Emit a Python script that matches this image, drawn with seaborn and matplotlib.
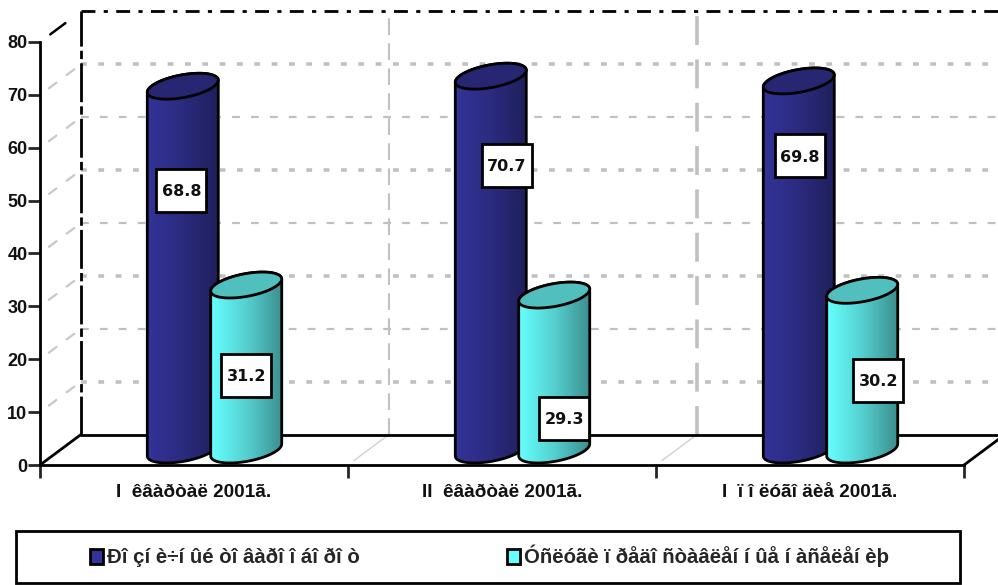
import matplotlib
matplotlib.use("Agg")
import matplotlib.pyplot as plt
import numpy as np
import pandas as pd
import seaborn as sns
from matplotlib.colors import LinearSegmentedColormap
from matplotlib.patches import Patch, Polygon, Rectangle

categories = ["I  êâàðòàë 2001ã.", "II  êâàðòàë 2001ã.", "I  ï î ëóãî äèå 2001ã."]
series_names = ["Ðî çí è÷í ûé òî âàðî î áî ðî ò", "Óñëóãè ï ðåäî ñòàâëåí í ûå í àñåëåí èþ"]
retail = [68.8, 70.7, 69.8]
services = [31.2, 29.3, 30.2]
y_ticks = [0, 10, 20, 30, 40, 50, 60, 70, 80]

# label box centres, pixels from the top centre of each bar
label_offsets = [
    [(-1.5, 89), (16, 74), (1, 60)],
    [(0, 75), (10, 108), (16, 75)],
]

sns.set_style("white")
plt.rcParams["font.family"] = ["Liberation Sans", "DejaVu Sans"]

W, H = 998, 585
L, R, T, B = 40, 964, 42, 465
px_x = 3 / (R - L)
px_y = 80 / (B - T)

depth_x = 41 * px_x
depth_y = 30.5 * px_y
shift = 20.5 * px_x
half_w = 35.5 * px_x
tilt = 6 * px_y
front = 11.5 * px_y
lift = 15 * px_y

df = pd.DataFrame({
    "period": categories * 2,
    "value": retail + services,
    "series": [series_names[0]] * 3 + [series_names[1]] * 3,
})

fig = plt.figure(figsize=(W / 100, H / 100), dpi=100)
ax = fig.add_axes([L / W, 1 - B / H, (R - L) / W, (B - T) / H])

colors = ["#333399", "#66ffff"]
sns.barplot(data=df, x="period", y="value", hue="series", hue_order=series_names,
            palette=colors, width=0.412, gap=0, saturation=1, legend=False, ax=ax)
ax.set_xlim(-0.5, 2.5)
ax.set_ylim(0, 80)
ax.set_xlabel("")
ax.set_ylabel("")
for s in ["top", "right"]:
    ax.spines[s].set_visible(False)
for s in ["left", "bottom"]:
    ax.spines[s].set_linewidth(2)
    ax.spines[s].set_color("black")
    ax.spines[s].set_zorder(6)

ax.set_yticks(y_ticks)
ax.tick_params(axis="y", left=True, length=9, width=2, pad=0, labelsize=13, labelcolor="#111111")
ax.set_xticks([0, 1, 2])
ax.set_xticks([-0.5, 0.5, 1.5, 2.5], minor=True)
ax.tick_params(axis="x", which="major", length=0, pad=13.5, labelsize=13.7, labelcolor="#111111")
ax.tick_params(axis="x", which="minor", bottom=True, length=9, width=2)
for lab in ax.get_xticklabels() + ax.get_yticklabels():
    lab.set_fontweight("bold")

x0 = -0.5 + depth_x
x_end = 2.5 + depth_x * 1.2

# back wall and side wall grid
for v in y_ticks[1:-1]:
    lw = 2.6 if v in (10, 30, 50, 70) else 1.6
    dash = (0, (1.6, 3.2)) if lw > 2 else (0, (3.5, 5))
    ax.plot([x0, x_end], [v + depth_y] * 2, color="#c0c0c0", lw=lw, ls=dash, clip_on=False, zorder=1)
    ax.plot([-0.5 + 0.2 * depth_x, x0], [v + 0.2 * depth_y, v + depth_y], color="#c8c8c8", lw=1.6,
            ls=(0, (5, 5)), clip_on=False, zorder=1)
for v in [0.5, 1.5]:
    ax.plot([v + depth_x] * 2, [depth_y, 80 + depth_y], color="#c0c0c0",
            lw=1.5 if v == 0.5 else 2.6, ls=(0, (8, 4)), clip_on=False, zorder=1)
    ax.plot([v + 0.15 * depth_x, v + depth_x], [0.15 * depth_y, depth_y], color="#d0d0d0", lw=1,
            clip_on=False, zorder=1)

# black frame of the box
ax.plot([x0, x_end], [80 + depth_y] * 2, color="black", lw=2, ls=(0, (5, 3, 1.5, 3)), clip_on=False, zorder=2)
ax.plot([x0, x0], [depth_y, 80 + depth_y], color="black", lw=2, ls=(0, (14, 1.5, 3, 1.5)), clip_on=False, zorder=2)
ax.plot([x0, x_end], [depth_y, depth_y], color="black", lw=2, clip_on=False, zorder=2)
ax.plot([-0.5, x0], [0, depth_y], color="black", lw=2, clip_on=False, zorder=2)
ax.plot([2.5, 2.5 + depth_x * 0.85], [0, depth_y * 0.85], color="black", lw=2, clip_on=False, zorder=2)
ax.plot([-0.5 + 0.25 * depth_x, -0.5 + 0.62 * depth_x], [80 + 0.25 * depth_y, 80 + 0.62 * depth_y],
        color="black", lw=1.8, clip_on=False, zorder=2)

grads = [
    LinearSegmentedColormap.from_list("blue", ["#333399", "#2b2b80", "#1f1f5c"]),
    LinearSegmentedColormap.from_list("cyan", ["#66ffff", "#55cfcf", "#3c8f8f"]),
]
tops = ["#262673", "#52bfbf"]
ramp = np.linspace(0, 1, 64).reshape(1, -1)


def arc(cx, cy, t):
    return np.column_stack([cx + half_w * np.cos(t), cy + tilt * np.cos(t) + front * np.sin(t)])


for i, bars in enumerate(ax.containers):
    for j, bar in enumerate(bars):
        value = bar.get_height()
        cx = bar.get_x() + bar.get_width() / 2 + shift
        top_y = value + lift
        base_y = lift
        lower = arc(cx, base_y, np.linspace(np.pi, 2 * np.pi, 40))
        upper = arc(cx, top_y, np.linspace(0, 2 * np.pi, 80))
        body = np.vstack([arc(cx, top_y, np.array([np.pi])), lower, arc(cx, top_y, np.linspace(0, np.pi, 40))])
        z = 3 + i
        outline = Polygon(body, closed=True, fc="none", ec="black", lw=2, zorder=z + 0.2, clip_on=False)
        ax.add_patch(outline)
        im = ax.imshow(ramp, cmap=grads[i], aspect="auto", zorder=z + 0.1,
                       extent=[cx - half_w, cx + half_w, 0, top_y + tilt])
        im.set_clip_path(Polygon(body, closed=True, transform=ax.transData))
        ax.add_patch(Polygon(upper, closed=True, fc=tops[i], ec="black", lw=2, zorder=z + 0.3, clip_on=False))
        bar.set_visible(False)

for i, bars in enumerate(ax.containers):
    for j, bar in enumerate(bars):
        cx = bar.get_x() + bar.get_width() / 2 + shift
        dx, dy = label_offsets[i][j]
        bx = cx + dx * px_x
        by = bar.get_height() - dy * px_y
        ax.add_patch(Rectangle((bx - 25 * px_x, by - 21.5 * px_y), 50 * px_x, 43 * px_y, fc="white",
                               ec="black", lw=2, zorder=7, clip_on=False))
        ax.text(bx, by, f"{bar.get_height():.1f}", ha="center", va="center_baseline", fontsize=11.5,
                fontweight="bold", family="DejaVu Sans", color="#111111", zorder=8)

ax.set_xlim(-0.5, 2.5)
ax.set_ylim(0, 80)
ax.patch.set_visible(False)

fig.add_artist(Rectangle((16 / W, 1 - 583 / H), 944 / W, 52 / H, transform=fig.transFigure,
                         fc="white", ec="black", lw=2))
handles = [Patch(fc=c, ec="black", lw=2) for c in colors]
fig.legend(handles, series_names, loc="center left", bbox_to_anchor=(72 / W, 1 - 556 / H), ncol=2,
           frameon=False, handlelength=0.62, handleheight=0.75, handletextpad=0.2, columnspacing=7.2,
           prop={"weight": "bold", "size": 14.7})

plt.savefig("out.png", dpi=100)
